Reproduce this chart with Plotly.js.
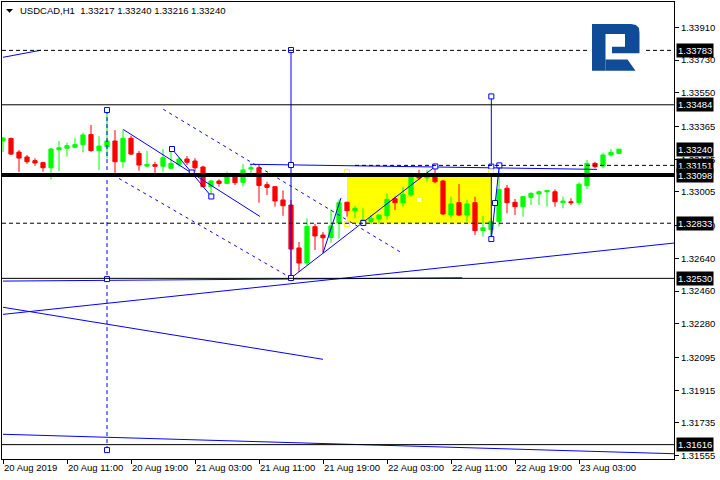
<!DOCTYPE html>
<html>
<head>
<meta charset="utf-8">
<script src="https://cdn.plot.ly/plotly-3.0.1.min.js"></script>
<style>html,body{margin:0;padding:0;background:#fff}#chart{width:720px;height:480px}</style>
</head>
<body>
<div id="chart"></div>
<script>
// ---- candle data (USDCAD H1, 20 Aug 03:00 .. 23 Aug 08:00) ----
const open  = [1.33285,1.33299,1.33224,1.33197,1.33177,1.33166,1.33138,1.33237,1.33245,1.33250,
               1.33265,1.33320,1.33232,1.33254,1.33285,1.33171,1.33300,1.33217,1.33147,1.33155,
               1.33146,1.33135,1.33157,1.33186,1.33175,1.33142,1.33034,1.33065,1.33052,1.33089,
               1.33058,1.33131,1.33138,1.33045,1.33034,1.32961,1.32933,1.32697,1.32614,1.32814,
               1.32768,1.32754,1.32836,1.32948,1.32902,1.32838,1.32843,1.32856,1.32874,1.32968,
               1.32946,1.32988,1.33098,1.33082,1.33098,1.33065,1.32878,1.32946,1.32878,1.32946,
               1.32792,1.32798,1.32841,1.33025,1.32948,1.32924,1.32975,1.32994,1.33006,1.33006,
               1.32946,1.32951,1.32946,1.33039,1.33162,1.33147,1.33208,1.33217];
const high  = [1.33307,1.33304,1.33235,1.33208,1.33190,1.33171,1.33248,1.33285,1.33276,1.33303,
               1.33331,1.33373,1.33311,1.33444,1.33345,1.33349,1.33314,1.33230,1.33230,1.33171,
               1.33241,1.33246,1.33193,1.33202,1.33190,1.33149,1.33071,1.33074,1.33116,1.33107,
               1.33159,1.33157,1.33157,1.33061,1.33036,1.33013,1.32961,1.32730,1.32860,1.32829,
               1.32785,1.32909,1.32964,1.32951,1.32928,1.32915,1.32878,1.32882,1.32997,1.32980,
               1.33034,1.33111,1.33126,1.33126,1.33144,1.33071,1.32979,1.33049,1.32961,1.32979,
               1.32873,1.32861,1.33142,1.33043,1.32966,1.32983,1.33003,1.33012,1.33016,1.33019,
               1.32979,1.32970,1.33058,1.33181,1.33171,1.33221,1.33241,1.33240];
const low   = [1.33224,1.33208,1.33115,1.33159,1.33148,1.33116,1.33074,1.33120,1.33199,1.33245,
               1.33223,1.33226,1.33126,1.33190,1.33102,1.33138,1.33208,1.33122,1.33142,1.33102,
               1.33115,1.33131,1.33144,1.33153,1.33116,1.33030,1.32983,1.33034,1.33050,1.33043,
               1.33034,1.33089,1.32946,1.32988,1.32924,1.32874,1.32530,1.32565,1.32603,1.32686,
               1.32672,1.32726,1.32749,1.32869,1.32860,1.32818,1.32829,1.32829,1.32851,1.32906,
               1.32924,1.32979,1.33071,1.33061,1.33052,1.32878,1.32860,1.32873,1.32841,1.32768,
               1.32759,1.32757,1.32814,1.32887,1.32878,1.32869,1.32933,1.32933,1.32924,1.32924,
               1.32915,1.32933,1.32933,1.33021,1.33135,1.33135,1.33199,1.33216];
const close = [1.33301,1.33213,1.33191,1.33171,1.33164,1.33138,1.33241,1.33248,1.33259,1.33265,
               1.33318,1.33232,1.33257,1.33285,1.33171,1.33300,1.33213,1.33153,1.33156,1.33146,
               1.33193,1.33162,1.33186,1.33168,1.33138,1.33034,1.33065,1.33052,1.33089,1.33056,
               1.33126,1.33138,1.33040,1.33030,1.32955,1.32929,1.32691,1.32614,1.32815,1.32763,
               1.32753,1.32818,1.32946,1.32902,1.32915,1.32851,1.32860,1.32878,1.32964,1.32946,
               1.32992,1.33089,1.33082,1.33101,1.33061,1.32884,1.32939,1.32878,1.32939,1.32792,
               1.32808,1.32842,1.33019,1.32946,1.32924,1.32979,1.32997,1.33006,1.33012,1.32951,
               1.32955,1.32946,1.33047,1.33162,1.33144,1.33208,1.33223,1.33240];

// x axis tick labels (every 8 bars)
const xTickBars   = [0, 8, 16, 24, 32, 40, 48, 56, 64, 72];
const xTickLabels = ['20 Aug 2019','20 Aug 11:00','20 Aug 19:00','21 Aug 03:00','21 Aug 11:00',
                     '21 Aug 19:00','22 Aug 03:00','22 Aug 11:00','22 Aug 19:00','23 Aug 03:00'];
// y axis tick labels
const yTickLabels = ['1.33910','1.33730','1.33550','1.33365','1.33185','1.33005','1.32820',
                     '1.32640','1.32460','1.32280','1.32095','1.31915','1.31735','1.31555'];

// horizontal levels
const levelsSolid  = [1.33484, 1.32530, 1.31616];
const levelsDashed = [1.33783, 1.32833];
const levelsThick  = [1.33098];
const dashedSegment = [[44, 1.33151]];            // starts at bar 44, runs to right edge
const priceLabels  = [1.33783, 1.33484, 1.33240, 1.33151, 1.33098, 1.32833, 1.32530, 1.31616];

// yellow rectangle (bars, prices)
const rectBars   = [43, 61];
const rectPrices = [1.32833, 1.33098];

// trend lines: [[bar, price], [bar, price]]
const trendSolid = [
  [[0, 1.33745], [4.75, 1.33784]],
  [[0, 1.32332], [83.875, 1.32724]],
  [[0, 1.32371], [40, 1.32085]],
  [[0, 1.31673], [83.875, 1.31566]],
  [[0, 1.32515], [57.4, 1.32533]],
  [[15.04, 1.33348], [32.125, 1.32870]],
  [[21.125, 1.33241], [26.04, 1.32980]],
  [[30.875, 1.33157], [74.25, 1.33129]],
  [[36, 1.32532], [54.04, 1.33145]],
  [[40, 1.32669], [42.25, 1.32972]],
  [[61.04, 1.32746], [62.04, 1.33151]],
  [[36, 1.33785], [36, 1.32532]],
  [[61.04, 1.33530], [61.04, 1.32746]]
];
const trendDotted = [
  [[20.04, 1.33459], [49.625, 1.32676]],
  [[13.75, 1.33098], [36, 1.32532]]
];
const vLineDashed = [[13, 1.33455], [13, 1.31586]];

// anchor squares of the drawing objects
const anchorsBlue = [[13,1.33455],[13,1.32526],[13,1.31586],[21.125,1.33241],[23.59,1.33112],
  [26.04,1.32980],[36,1.33785],[36,1.33153],[36,1.32532],[45.04,1.32834],[54.04,1.33145],
  [61.04,1.33144],[62.04,1.33151],[61.5,1.32944],[61.04,1.32746],[61.04,1.33530]];
const anchorsYellow = [[43,1.33115],[43,1.32829],[61,1.33115]];
const anchorsWhite  = [[52,1.32961]];

const symbol = 'USDCAD,H1';

// ---------------- build ----------------
const bars = close.map((_, i) => i);
const BLUE = '#0000FF';
const FONT = 'Liberation Sans, Arial, sans-serif';
const FS = 9.5;

const traces = [];
traces.push({
  type: 'candlestick', x: bars, open: open, high: high, low: low, close: close,
  increasing: {line: {color: '#00FF00', width: 1}, fillcolor: '#00FF00'},
  decreasing: {line: {color: '#FF0000', width: 1}, fillcolor: '#FF0000'},
  whiskerwidth: 0, hoverinfo: 'skip', showlegend: false
});
trendSolid.forEach(l => traces.push({type:'scatter', mode:'lines', x:[l[0][0], l[1][0]], y:[l[0][1], l[1][1]],
  line:{color:BLUE, width:1}, hoverinfo:'skip', showlegend:false}));
trendDotted.forEach(l => traces.push({type:'scatter', mode:'lines', x:[l[0][0], l[1][0]], y:[l[0][1], l[1][1]],
  line:{color:BLUE, width:1, dash:'3px,4px'}, hoverinfo:'skip', showlegend:false}));
traces.push({type:'scatter', mode:'lines', x:vLineDashed.map(p=>p[0]), y:vLineDashed.map(p=>p[1]),
  line:{color:BLUE, width:1, dash:'4px,3px'}, hoverinfo:'skip', showlegend:false});
traces.push({type:'scatter', mode:'markers', x:anchorsBlue.map(p=>p[0]), y:anchorsBlue.map(p=>p[1]),
  marker:{symbol:'square', size:5, color:'#FFFFFF', line:{color:BLUE, width:1}}, hoverinfo:'skip', showlegend:false});
traces.push({type:'scatter', mode:'markers', x:anchorsYellow.map(p=>p[0]), y:anchorsYellow.map(p=>p[1]),
  marker:{symbol:'square', size:5, color:'#FFFFFF', line:{color:'#FFFF00', width:1}}, hoverinfo:'skip', showlegend:false});
traces.push({type:'scatter', mode:'markers', x:anchorsWhite.map(p=>p[0]), y:anchorsWhite.map(p=>p[1]),
  marker:{symbol:'square', size:4, color:'#FFFFFF', line:{width:0}}, hoverinfo:'skip', showlegend:false});

// plot area geometry
const M = {l:2, r:46, t:2, b:21};
const PW = 720 - M.l - M.r, PH = 480 - M.t - M.b;
const P = (px, py) => ((px - M.l) / PW).toFixed(5) + ',' + ((480 - M.b - py) / PH).toFixed(5);
const path = pts => 'M' + pts.map(p => P(p[0], p[1])).join(' L') + ' Z';

const shapes = [];
shapes.push({type:'rect', xref:'x', yref:'y', x0:rectBars[0], x1:rectBars[1], y0:rectPrices[0], y1:rectPrices[1],
  fillcolor:'#FFFF00', line:{width:0}, layer:'below'});
levelsSolid.forEach(v => shapes.push({type:'line', xref:'paper', yref:'y', x0:0, x1:1, y0:v, y1:v, line:{color:'#000', width:1}}));
levelsDashed.forEach(v => shapes.push({type:'line', xref:'paper', yref:'y', x0:0, x1:1, y0:v, y1:v, line:{color:'#000', width:1, dash:'4px,3px'}}));
levelsThick.forEach(v => shapes.push({type:'line', xref:'paper', yref:'y', x0:0, x1:1, y0:v, y1:v, line:{color:'#000', width:4}}));
dashedSegment.forEach(s => shapes.push({type:'line', xref:'x', yref:'y', x0:s[0], x1:83.875, y0:s[1], y1:s[1], line:{color:'#000', width:1, dash:'4px,3px'}}));

// logo (white backing + "R" mark)
shapes.push({type:'path', xref:'paper', yref:'paper', path: path([[587,21],[645,21],[645,74],[587,74]]), fillcolor:'#FFFFFF', line:{width:0}});
shapes.push({type:'path', xref:'paper', yref:'paper',
  path: path([[592,24],[631,24],[636,25],[639,28],[639.5,33],[639.5,53.3],[612,53.3],[612,46.7],[625,46.7],[625,34],[605.5,34],[605.5,70.7],[592,70.7]]),
  fillcolor:'#0E4C97', line:{width:0}});
shapes.push({type:'path', xref:'paper', yref:'paper',
  path: path([[605.5,59.5],[627.5,59.5],[635.5,70.7],[605.5,70.7]]), fillcolor:'#0E4C97', line:{width:0}});
// header triangle
shapes.push({type:'path', xref:'paper', yref:'paper', path: path([[6,9],[13,9],[9.5,12.7]]), fillcolor:'#000', line:{width:0}});

const annotations = priceLabels.map(v => ({
  xref:'paper', yref:'y', x:1, y:v, xanchor:'left', yanchor:'middle', xshift:2,
  text: v.toFixed(5), showarrow:false, bgcolor:'#000000', borderpad:1,
  font:{family:FONT, size:FS, color:'#FFFFFF'}
}));
const last = close.length - 1;
annotations.push({
  xref:'paper', yref:'paper', x:(18 - M.l) / PW, y:(480 - M.b - 10.5) / PH, xanchor:'left', yanchor:'middle',
  showarrow:false,
  text: symbol + '\u00A0\u00A0' + [open[last], high[last], low[last], close[last]].map(v => v.toFixed(5)).join('\u00A0'),
  font:{family:FONT, size:FS, color:'#000'}
});

const layout = {
  width:720, height:480, margin:M, paper_bgcolor:'#FFFFFF', plot_bgcolor:'#FFFFFF',
  showlegend:false, boxgap:0.25, boxgroupgap:0.3,
  font:{family:FONT, size:FS, color:'#000'},
  xaxis:{type:'linear', range:[-0.125, 83.875], rangeslider:{visible:false}, showgrid:false, zeroline:false,
    showline:true, linecolor:'#000', linewidth:1, mirror:true,
    tickmode:'array', tickvals:xTickBars, ticktext:xTickLabels, ticks:'outside', ticklen:4, tickcolor:'#000',
    tickangle:0, ticklabelposition:'outside right', ticklabelstandoff:0,
    tickfont:{family:FONT, size:FS, color:'#000'}, fixedrange:true},
  yaxis:{range:[1.31537, 1.34049], side:'right', showgrid:false, zeroline:false,
    showline:true, linecolor:'#000', linewidth:1, mirror:true,
    tickmode:'array', tickvals:yTickLabels.map(Number), ticktext:yTickLabels, ticks:'outside', ticklen:4, tickcolor:'#000',
    tickfont:{family:FONT, size:FS, color:'#000'}, fixedrange:true},
  shapes:shapes, annotations:annotations
};

Plotly.newPlot('chart', traces, layout, {staticPlot:true, displayModeBar:false});
</script>
</body>
</html>
